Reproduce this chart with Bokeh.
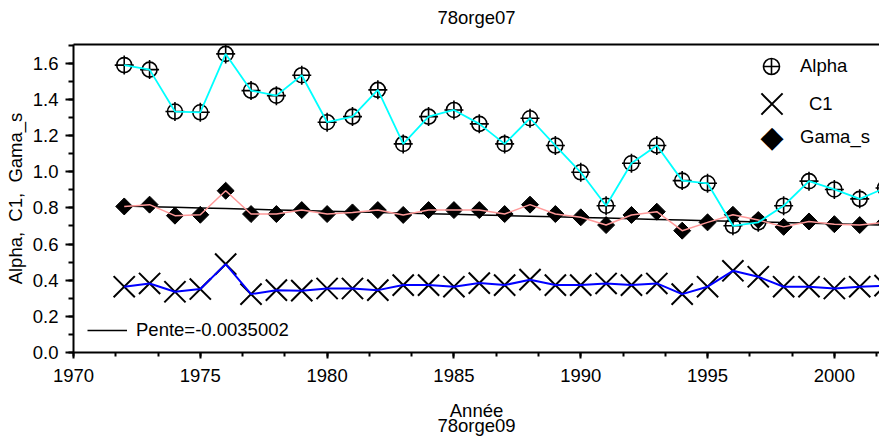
import math
from bokeh.plotting import figure
from bokeh.models import (Range1d, LinearAxis, SingleIntervalTicker, FixedTicker,
                          PrintfTickFormatter, Legend, LegendItem, Label)
from bokeh.embed import file_html
from bokeh.resources import INLINE

# ---- data ----
annees = [1972, 1973, 1974, 1975, 1976, 1977, 1978, 1979, 1980, 1981,
          1982, 1983, 1984, 1985, 1986, 1987, 1988, 1989, 1990, 1991,
          1992, 1993, 1994, 1995, 1996, 1997, 1998, 1999, 2000, 2001, 2002]
alpha = [1.59, 1.565, 1.333, 1.329, 1.652, 1.449, 1.421, 1.534, 1.274, 1.305,
         1.453, 1.154, 1.305, 1.342, 1.265, 1.154, 1.296, 1.145, 0.997, 0.812,
         1.047, 1.145, 0.951, 0.936, 0.701, 0.72, 0.812, 0.948, 0.902, 0.85, 0.91]
c1 = [0.364, 0.382, 0.336, 0.351, 0.489, 0.323, 0.345, 0.342, 0.354, 0.354,
      0.345, 0.373, 0.373, 0.364, 0.384, 0.373, 0.403, 0.373, 0.373, 0.382,
      0.373, 0.382, 0.323, 0.364, 0.452, 0.419, 0.364, 0.364, 0.354, 0.364, 0.37]
gama_s = [0.808, 0.818, 0.757, 0.762, 0.895, 0.766, 0.766, 0.788, 0.766, 0.775,
          0.788, 0.761, 0.788, 0.788, 0.788, 0.766, 0.818, 0.766, 0.748, 0.705,
          0.761, 0.779, 0.674, 0.72, 0.762, 0.733, 0.695, 0.725, 0.71, 0.705, 0.72]
pente = -0.0035002          # slope of the Gama_s trend line (from the legend)
ordonnee_1972 = 0.81        # trend value in 1972
annee_ref = 1972
tendance = [ordonnee_1972 + pente * (a - annee_ref) for a in annees]

titre = "78orge07"
label_x = "Année\n78orge09"
label_y = "Alpha,\u00a0 C1,\u00a0 Gama_s"

FONT = "Liberation Sans"
FS = "18.5px"

p = figure(width=879, height=439, output_backend="svg", toolbar_location=None,
           x_range=Range1d(1970, 2001.78), y_range=Range1d(0, 1.704),
           min_border_left=73, min_border_right=0, min_border_top=44,
           min_border_bottom=87)
p.outline_line_color = None
p.xgrid.visible = False
p.ygrid.visible = False
p.background_fill_color = "white"
p.border_fill_color = "white"

xa = p.xaxis[0]
xa.ticker = SingleIntervalTicker(interval=5, num_minor_ticks=3)
xa.formatter = PrintfTickFormatter(format="%d")
xa.axis_line_width = 2
xa.major_tick_in = 0
xa.major_tick_out = 6
xa.minor_tick_in = 0
xa.minor_tick_out = 4
xa.major_tick_line_width = 2
xa.minor_tick_line_width = 2
xa.major_label_standoff = 10
xa.major_label_text_font = FONT
xa.major_label_text_font_size = FS
xa.major_label_text_color = "black"
xa.axis_label = label_x
xa.axis_label_standoff = 15
xa.axis_label_text_font = FONT
xa.axis_label_text_font_size = FS
xa.axis_label_text_font_style = "normal"
xa.axis_label_text_color = "black"
xa.axis_label_text_line_height = 0.76

ya = p.yaxis[0]
ya.ticker = SingleIntervalTicker(interval=0.2, num_minor_ticks=2)
ya.formatter = PrintfTickFormatter(format="%.1f")
ya.axis_line_width = 2
ya.major_tick_in = 0
ya.major_tick_out = 8
ya.minor_tick_in = 0
ya.minor_tick_out = 5
ya.major_tick_line_width = 2
ya.minor_tick_line_width = 2
ya.major_label_standoff = 7
ya.major_label_text_font = FONT
ya.major_label_text_font_size = FS
ya.major_label_text_color = "black"
ya.axis_label = label_y
ya.axis_label_standoff = 4
ya.axis_label_text_font = FONT
ya.axis_label_text_font_size = FS
ya.axis_label_text_font_style = "normal"
ya.axis_label_text_color = "black"

# top frame line, carrying the title as its label
top = LinearAxis(ticker=FixedTicker(ticks=[]), axis_line_width=2,
                 major_tick_in=0, major_tick_out=0, minor_tick_in=0, minor_tick_out=0,
                 major_label_standoff=0, axis_label=titre, axis_label_standoff=17,
                 axis_label_text_font=FONT, axis_label_text_font_size=FS,
                 axis_label_text_font_style="normal", axis_label_text_color="black")
p.add_layout(top, "above")

# ---- glyphs ----
r_trend = p.line(annees, tendance, line_color="black", line_width=1.5)
r_dia = p.scatter(annees, gama_s, marker="square", angle=math.pi / 4, size=12,
                  fill_color="black", line_color="black")
r_x = p.scatter(annees, c1, marker="x", size=30, line_color="black", line_width=2)
r_circ = p.scatter(annees, alpha, marker="circle", size=15, fill_color=None,
                   line_color="black", line_width=1.6)
r_cross = p.scatter(annees, alpha, marker="cross", size=19, line_color="black",
                    line_width=1.6)
p.line(annees, gama_s, line_color="#FF9A9A", line_width=1.5)
p.line(annees, c1, line_color="#0000FF", line_width=2)
p.line(annees, alpha, line_color="#00FFFF", line_width=1.8)

# invisible stand-in so the Gama_s legend entry keeps its label; the diamond is drawn as text
r_leg_dia = p.scatter([], [], marker="square", size=1, fill_alpha=0, line_alpha=0)


def make_legend(label, renderers, loc, box_w, box_h, standoff):
    lg = Legend(items=[LegendItem(label=label, renderers=renderers)], location=loc,
                glyph_width=box_w, glyph_height=box_h, label_standoff=standoff,
                label_height=20, padding=0, margin=0, spacing=0,
                border_line_color=None, background_fill_alpha=0,
                label_text_font=FONT, label_text_font_size=FS,
                label_text_color="black")
    p.add_layout(lg)


make_legend("Alpha", [r_circ, r_cross], (678, 266), 40, 40, 9)
make_legend("C1", [r_x], (661, 211), 75, 75, 0)
make_legend("Gama_s", [r_leg_dia], (683, 200), 30, 30, 14)
make_legend("Pente=" + str(pente), [r_trend], (14, 11), 40, 20, 9)

p.add_layout(Label(x=698.5, y=216, x_units="screen", y_units="screen", text="\u25c6",
                   text_align="center", text_baseline="middle", text_color="black",
                   text_font="DejaVu Sans", text_font_size="30px"))

open("out.html", "w").write(file_html(p, INLINE))
